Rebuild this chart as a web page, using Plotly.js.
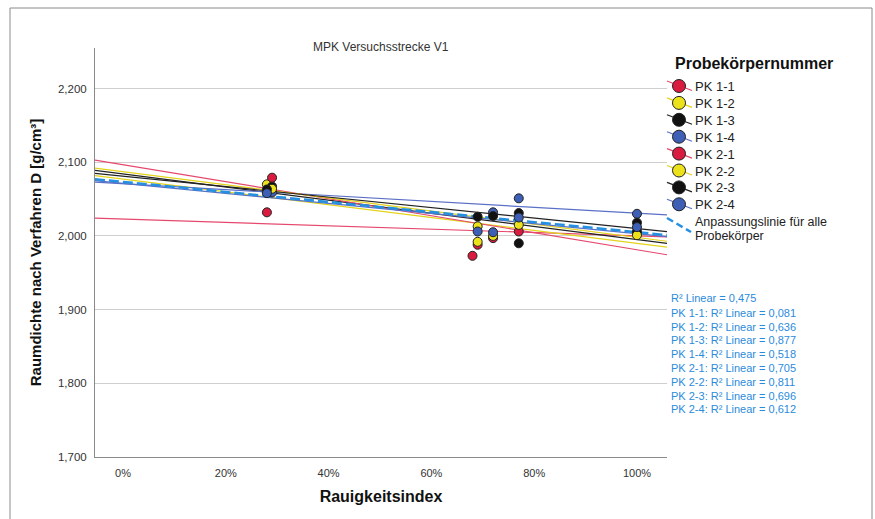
<!DOCTYPE html>
<html><head><meta charset="utf-8">
<script src="https://cdn.plot.ly/plotly-3.0.1.min.js"></script>
<style>html,body{margin:0;padding:0;background:#fff}#chart{width:875px;height:519px}</style>
</head><body><div id="chart"></div>
<script>
// ---- data ----
const seriesNames = ["PK 1-1","PK 1-2","PK 1-3","PK 1-4","PK 2-1","PK 2-2","PK 2-3","PK 2-4"];
const markerColors = ["#d81b3f","#ece21c","#111111","#3d5fb5","#d81b3f","#ece21c","#111111","#3d5fb5"];
const lineColors = ["#e5486c","#e3d31a","#222222","#5a6fc6","#e5486c","#e3d31a","#222222","#5a6fc6"];

const pk11X = [0.28, 0.69, 0.77];            const pk11Y = [2.032, 1.988, 2.006];
const pk12X = [0.28, 0.69, 0.77, 1.00];      const pk12Y = [2.070, 1.992, 2.015, 2.003];
const pk13X = [0.29, 0.69, 0.77, 1.00];      const pk13Y = [2.067, 2.026, 1.990, 2.006];
const pk14X = [0.29, 0.72, 0.77, 1.00];      const pk14Y = [2.059, 2.032, 2.051, 2.030];
const pk21X = [0.29, 0.68, 0.72];            const pk21Y = [2.079, 1.973, 1.997];
const pk22X = [0.29, 0.69, 0.72, 1.00];      const pk22Y = [2.064, 2.013, 2.000, 2.001];
const pk23X = [0.28, 0.72, 0.77, 1.00];      const pk23Y = [2.063, 2.027, 2.031, 2.018];
const pk24X = [0.28, 0.69, 0.72, 0.77, 1.00];const pk24Y = [2.058, 2.006, 2.005, 2.025, 2.012];

// linear fit per series: value at x=0 and x=1
const fitAt0 = [2.0228, 2.0772, 2.0841, 2.0708, 2.0967, 2.0871, 2.0811, 2.0713];
const fitAt1 = [2.0000, 1.9900, 1.9950, 2.0308, 1.9812, 1.9980, 2.0100, 2.0031];
const r2Values = [0.081, 0.636, 0.877, 0.518, 0.705, 0.811, 0.696, 0.612];
const allFitAt0 = 2.0733, allFitAt1 = 2.0051, r2All = 0.475;

const xTickVals = [0, 0.2, 0.4, 0.6, 0.8, 1.0];
const yTickVals = [1.7, 1.8, 1.9, 2.0, 2.1, 2.2];

// ---- layout geometry ----
const W = 875, H = 519, ML = 95, MR = 208, MT = 48, MB = 62;
const PW = W - ML - MR, PH = H - MT - MB;
const xRange = [-0.0545, 1.0584], yRange = [1.700, 2.255];
const px2x = p => (p - ML) / PW;
const px2y = p => (H - MB - p) / PH;
const FONT = "Liberation Sans, Arial, sans-serif";
const fmt3 = v => v.toFixed(3).replace(".", ",");

const seriesX = [pk11X, pk12X, pk13X, pk14X, pk21X, pk22X, pk23X, pk24X];
const seriesY = [pk11Y, pk12Y, pk13Y, pk14Y, pk21Y, pk22Y, pk23Y, pk24Y];

const traces = [];
seriesNames.forEach((n, i) => {
  traces.push({
    x: xRange, y: xRange.map(x => fitAt0[i] + (fitAt1[i] - fitAt0[i]) * x),
    mode: "lines", line: {color: lineColors[i], width: 1.2},
    showlegend: false, hoverinfo: "skip", name: n + " fit"
  });
});
traces.push({
  x: xRange, y: xRange.map(x => allFitAt0 + (allFitAt1 - allFitAt0) * x),
  mode: "lines", line: {color: "#2690e0", width: 2.5, dash: "10px,4px"},
  showlegend: false, hoverinfo: "skip", name: "Anpassungslinie für alle Probekörper"
});
seriesNames.forEach((n, i) => {
  traces.push({
    x: seriesX[i], y: seriesY[i], mode: "markers", name: n,
    marker: {color: markerColors[i], size: 9, line: {color: "#222", width: 1}},
    showlegend: false
  });
});

// ---- manual legend & notes ----
const shapes = [], annotations = [];
shapes.push({type: "rect", xref: "paper", yref: "paper",
  x0: px2x(10), x1: px2x(872), y0: px2y(540), y1: px2y(8),
  line: {color: "#8a8a8a", width: 1}, fillcolor: "rgba(0,0,0,0)"});

annotations.push({xref: "paper", yref: "paper", x: px2x(381), y: px2y(47),
  text: "MPK Versuchsstrecke V1", showarrow: false, xanchor: "center", yanchor: "middle",
  font: {family: FONT, size: 12, color: "#333"}});
annotations.push({xref: "paper", yref: "paper", x: px2x(673), y: px2y(63),
  text: "<b>Probekörpernummer</b>", showarrow: false, xanchor: "left", yanchor: "middle",
  font: {family: FONT, size: 16, color: "#111"}});

seriesNames.forEach((n, i) => {
  const cy = 86 + 16.9 * i;
  shapes.push({type: "line", xref: "paper", yref: "paper",
    x0: px2x(667), y0: px2y(cy - 5), x1: px2x(692), y1: px2y(cy + 4.5),
    line: {color: lineColors[i], width: 1.2}});
  shapes.push({type: "circle", xref: "paper", yref: "paper",
    x0: px2x(679 - 6.5), x1: px2x(679 + 6.5), y0: px2y(cy + 6.5), y1: px2y(cy - 6.5),
    fillcolor: markerColors[i], line: {color: "#222", width: 1}});
  annotations.push({xref: "paper", yref: "paper", x: px2x(693), y: px2y(cy + 0.5),
    text: n, showarrow: false, xanchor: "left", yanchor: "middle",
    font: {family: FONT, size: 13, color: "#222"}});
});
shapes.push({type: "line", xref: "paper", yref: "paper",
  x0: px2x(667), y0: px2y(218), x1: px2x(691), y1: px2y(232),
  line: {color: "#2690e0", width: 2.5, dash: "7px,4px"}});
annotations.push({xref: "paper", yref: "paper", x: px2x(693), y: px2y(221.5),
  text: "Anpassungslinie für alle", showarrow: false, xanchor: "left", yanchor: "middle",
  font: {family: FONT, size: 12.5, color: "#222"}});
annotations.push({xref: "paper", yref: "paper", x: px2x(693), y: px2y(236),
  text: "Probekörper", showarrow: false, xanchor: "left", yanchor: "middle",
  font: {family: FONT, size: 12.5, color: "#222"}});

const r2Color = "#2b8bdb";
annotations.push({xref: "paper", yref: "paper", x: px2x(669), y: px2y(297.5),
  text: "R² Linear = " + fmt3(r2All), showarrow: false, xanchor: "left", yanchor: "middle",
  font: {family: FONT, size: 11, color: r2Color}});
seriesNames.forEach((n, i) => {
  annotations.push({xref: "paper", yref: "paper", x: px2x(669), y: px2y(312.8 + 13.8 * i),
    text: n + ": R² Linear = " + fmt3(r2Values[i]), showarrow: false, xanchor: "left", yanchor: "middle",
    font: {family: FONT, size: 11, color: r2Color}});
});

const layout = {
  width: W, height: H, margin: {l: ML, r: MR, t: MT, b: MB, pad: 0},
  paper_bgcolor: "#fff", plot_bgcolor: "#fff", separators: ",.",
  showlegend: false, font: {family: FONT, size: 11, color: "#333"},
  xaxis: {range: xRange, tickvals: xTickVals, tickformat: ".0%", showgrid: false,
    zeroline: false, showline: true, linecolor: "#8a8a8a", linewidth: 1, ticks: "",
    ticklabelstandoff: 6, tickfont: {family: FONT, size: 11, color: "#333"},
    title: {text: "<b>Rauigkeitsindex</b>", standoff: 12, font: {family: FONT, size: 16, color: "#111"}}},
  yaxis: {range: yRange, tickvals: yTickVals, tickformat: ".3f", showgrid: true,
    gridcolor: "#cfcfcf", gridwidth: 1, zeroline: false, showline: true, linecolor: "#8a8a8a",
    linewidth: 1, ticks: "", ticklabelstandoff: 5, tickfont: {family: FONT, size: 11.5, color: "#333"},
    title: {text: "<b>Raumdichte nach Verfahren D [g/cm³]</b>", standoff: 12, font: {family: FONT, size: 15, color: "#111"}}},
  shapes: shapes, annotations: annotations
};

Plotly.newPlot("chart", traces, layout, {displayModeBar: false, staticPlot: true});
</script></body></html>
